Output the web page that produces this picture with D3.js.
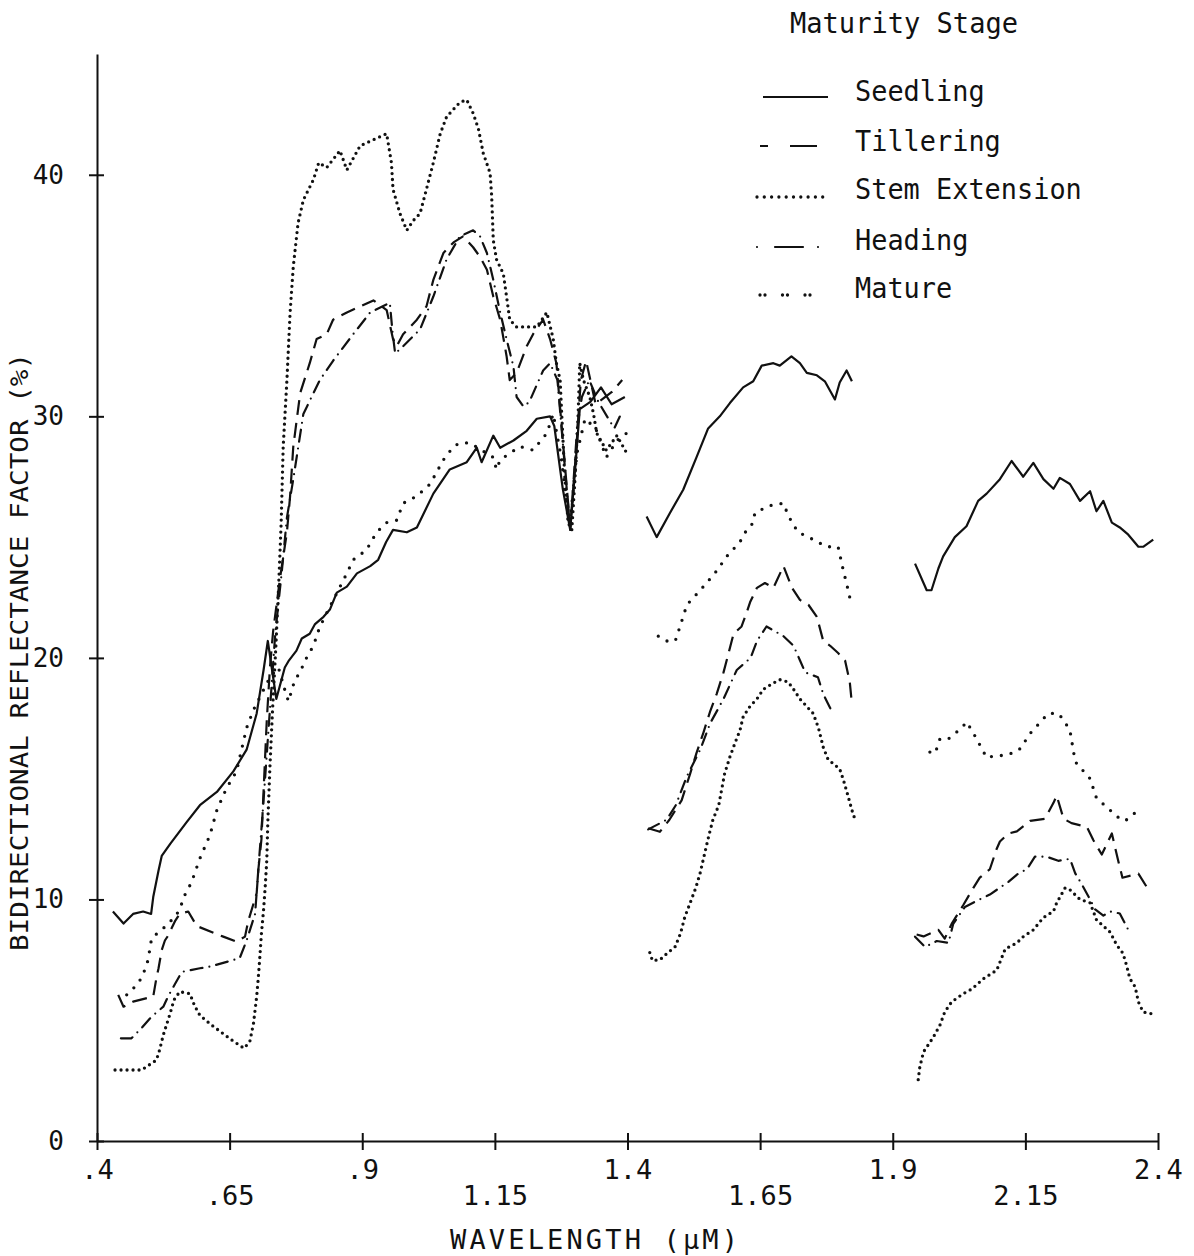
<!DOCTYPE html>
<html>
<head>
<meta charset="utf-8">
<script src="https://cdn.jsdelivr.net/npm/d3@7"></script>
<style>
  body { margin: 0; background: #fff; }
  svg { display: block; background: #fff; }
  text { font-family: "DejaVu Sans Mono", monospace; fill: #111; }
</style>
</head>
<body>
<svg id="chart" width="1194" height="1256"></svg>
<script>
// wavelength (um) / reflectance factor (%), one array per stage and band
const wavelengthTicks = [0.4, 0.65, 0.9, 1.15, 1.4, 1.65, 1.9, 2.15, 2.4];
const wavelengthLabels = [".4", ".65", ".9", "1.15", "1.4", "1.65", "1.9", "2.15", "2.4"];
const reflectanceTicks = [0, 10, 20, 30, 40];
const stages = ["Seedling", "Tillering", "Stem Extension", "Heading", "Mature"];

const seedlingVis = [[0.43,9.5],[0.45,9.0],[0.468,9.4],[0.487,9.5],[0.502,9.4],[0.506,10.1],[0.516,11.2],[0.522,11.8],[0.538,12.3],[0.569,13.2],[0.594,13.9],[0.626,14.45],[0.657,15.3],[0.682,16.2],[0.701,17.7],[0.714,19.5],[0.722,20.7],[0.73,19.5],[0.738,18.3],[0.754,19.6],[0.762,19.9],[0.776,20.3],[0.786,20.8],[0.801,21.0],[0.811,21.4],[0.827,21.7],[0.839,22.0],[0.852,22.7],[0.871,22.95],[0.89,23.5],[0.915,23.8],[0.93,24.06],[0.945,24.8],[0.958,25.3],[0.984,25.2],[1.003,25.4],[1.034,26.8],[1.065,27.8],[1.097,28.1],[1.116,28.7],[1.125,28.1],[1.147,29.2],[1.16,28.7],[1.185,29.0],[1.21,29.4],[1.229,29.9],[1.254,30.0],[1.262,29.6],[1.278,27.0],[1.292,25.3],[1.302,28.0],[1.31,30.3],[1.33,30.6],[1.35,31.2],[1.37,30.5],[1.395,30.8]];
const seedlingSwir1 = [[1.436,25.85],[1.455,25.0],[1.48,26.0],[1.505,26.96],[1.53,28.3],[1.552,29.5],[1.574,30.0],[1.593,30.55],[1.618,31.2],[1.637,31.45],[1.653,32.1],[1.675,32.2],[1.687,32.1],[1.709,32.48],[1.725,32.2],[1.738,31.8],[1.757,31.7],[1.772,31.45],[1.791,30.7],[1.8,31.4],[1.813,31.9],[1.823,31.45]];
const seedlingSwir2 = [[1.942,23.9],[1.964,22.8],[1.973,22.8],[1.986,23.7],[1.995,24.2],[2.017,25.0],[2.039,25.45],[2.061,26.5],[2.077,26.8],[2.102,27.4],[2.124,28.15],[2.146,27.5],[2.165,28.07],[2.184,27.4],[2.203,27.0],[2.215,27.45],[2.234,27.2],[2.253,26.5],[2.272,26.9],[2.284,26.07],[2.297,26.5],[2.313,25.6],[2.328,25.4],[2.344,25.1],[2.363,24.6],[2.372,24.6],[2.391,24.9]];

const tilleringVis = [[0.44,6.05],[0.45,5.56],[0.468,5.77],[0.506,5.98],[0.512,6.75],[0.516,7.15],[0.522,7.9],[0.528,8.3],[0.534,8.5],[0.547,9.1],[0.556,9.4],[0.572,9.5],[0.588,8.9],[0.638,8.46],[0.663,8.25],[0.679,8.46],[0.685,9.1],[0.701,10.26],[0.704,11.2],[0.71,12.5],[0.714,14.5],[0.72,17.4],[0.726,19.6],[0.732,21.1],[0.745,23.3],[0.758,25.2],[0.764,26.7],[0.77,28.75],[0.783,30.96],[0.801,32.2],[0.814,33.2],[0.833,33.4],[0.845,34.0],[0.871,34.3],[0.896,34.55],[0.921,34.8],[0.946,34.4],[0.958,33.2],[0.965,32.9],[0.977,33.4],[1.003,34.0],[1.021,34.55],[1.034,35.65],[1.053,36.76],[1.072,37.2],[1.09,37.45],[1.109,37.0],[1.122,36.6],[1.135,36.07],[1.147,34.96],[1.16,34.0],[1.172,32.5],[1.178,31.5],[1.191,31.8],[1.21,32.9],[1.222,33.4],[1.241,34.0],[1.254,33.2],[1.266,32.2],[1.28,28.5],[1.292,25.4],[1.303,28.5],[1.312,31.5],[1.322,32.3],[1.34,30.5],[1.37,31.0],[1.39,31.5]];
const tilleringSwir1 = [[1.439,12.95],[1.461,12.8],[1.479,13.3],[1.502,14.1],[1.518,15.2],[1.53,16.06],[1.543,16.9],[1.556,17.8],[1.568,18.5],[1.581,19.4],[1.587,19.9],[1.6,21.0],[1.615,21.3],[1.625,21.9],[1.631,22.3],[1.644,22.9],[1.659,23.1],[1.675,22.9],[1.694,23.8],[1.71,22.9],[1.725,22.4],[1.741,22.2],[1.757,21.7],[1.769,20.7],[1.782,20.5],[1.797,20.2],[1.81,19.9],[1.819,19.0],[1.823,18.1]];
const tilleringSwir2 = [[1.945,8.55],[1.958,8.47],[1.986,8.74],[1.998,8.38],[2.011,8.99],[2.033,9.77],[2.052,10.48],[2.064,10.9],[2.083,11.25],[2.096,12.1],[2.102,12.4],[2.118,12.73],[2.134,12.82],[2.159,13.25],[2.187,13.34],[2.203,14.0],[2.209,14.3],[2.222,13.34],[2.237,13.16],[2.266,13.0],[2.278,12.46],[2.294,11.86],[2.313,12.73],[2.325,11.6],[2.333,10.9],[2.363,11.07],[2.382,10.4]];

const stemVis = [[0.434,2.94],[0.46,2.94],[0.484,2.94],[0.512,3.35],[0.518,3.77],[0.525,4.39],[0.538,5.29],[0.545,5.84],[0.556,6.18],[0.575,6.1],[0.584,5.6],[0.594,5.2],[0.616,4.8],[0.641,4.39],[0.654,4.18],[0.677,3.84],[0.688,4.11],[0.695,4.87],[0.701,5.98],[0.704,6.74],[0.707,7.63],[0.71,8.6],[0.714,9.57],[0.717,10.5],[0.72,11.6],[0.722,13.2],[0.726,15.5],[0.731,17.9],[0.737,20.4],[0.743,23.3],[0.747,25.5],[0.751,28.75],[0.758,31.5],[0.764,34.3],[0.77,36.2],[0.779,38.0],[0.789,38.96],[0.808,39.8],[0.818,40.5],[0.833,40.3],[0.858,41.0],[0.871,40.2],[0.896,41.2],[0.921,41.45],[0.946,41.7],[0.955,40.5],[0.958,39.4],[0.971,38.4],[0.984,37.7],[0.996,38.1],[1.009,38.4],[1.021,39.4],[1.034,40.5],[1.047,41.7],[1.059,42.4],[1.084,43.0],[1.097,43.1],[1.109,42.55],[1.119,41.9],[1.128,40.9],[1.141,40.07],[1.144,39.1],[1.147,37.3],[1.153,36.5],[1.166,35.9],[1.172,34.96],[1.178,34.0],[1.191,33.7],[1.21,33.7],[1.229,33.7],[1.248,34.3],[1.26,33.2],[1.266,32.2],[1.273,31.5],[1.276,30.1],[1.282,27.4],[1.288,25.6],[1.295,25.3],[1.301,27.4],[1.307,30.1],[1.31,32.2],[1.317,31.5],[1.329,30.8],[1.336,30.1],[1.342,29.3],[1.36,28.6],[1.38,29.2],[1.398,28.5]];
const stemSwir1 = [[1.442,7.8],[1.447,7.47],[1.461,7.5],[1.471,7.7],[1.49,8.05],[1.5,8.6],[1.508,9.27],[1.518,9.85],[1.529,10.5],[1.537,11.1],[1.547,12.05],[1.554,12.7],[1.561,13.3],[1.572,13.9],[1.583,15.2],[1.593,15.9],[1.603,16.5],[1.612,17.0],[1.618,17.56],[1.631,18.0],[1.644,18.3],[1.656,18.7],[1.675,18.96],[1.687,19.1],[1.703,19.0],[1.713,18.7],[1.725,18.3],[1.75,17.7],[1.76,17.1],[1.769,16.3],[1.778,15.8],[1.8,15.4],[1.807,14.95],[1.816,14.26],[1.823,13.7],[1.829,13.3]];
const stemSwir2 = [[1.948,2.54],[1.951,3.06],[1.958,3.69],[1.976,4.28],[1.989,4.8],[1.998,5.34],[2.011,5.76],[2.033,6.1],[2.049,6.29],[2.071,6.72],[2.096,7.07],[2.112,7.95],[2.134,8.2],[2.146,8.46],[2.165,8.74],[2.184,9.25],[2.203,9.51],[2.209,9.86],[2.225,10.48],[2.234,10.4],[2.253,10.0],[2.272,9.86],[2.284,9.16],[2.31,8.64],[2.322,8.12],[2.334,7.77],[2.341,7.25],[2.347,6.72],[2.357,6.38],[2.363,5.76],[2.372,5.34],[2.394,5.24]];

const headingVis = [[0.445,4.25],[0.465,4.25],[0.485,4.7],[0.503,5.15],[0.525,5.56],[0.534,5.98],[0.547,6.5],[0.56,7.0],[0.594,7.15],[0.613,7.22],[0.669,7.57],[0.682,8.3],[0.698,9.4],[0.705,11.5],[0.712,13.5],[0.72,16.0],[0.728,18.5],[0.736,21.0],[0.748,23.5],[0.758,25.8],[0.77,27.4],[0.789,30.1],[0.82,31.5],[0.845,32.3],[0.883,33.4],[0.915,34.3],[0.952,34.7],[0.957,33.5],[0.962,32.6],[0.977,32.9],[1.009,33.6],[1.034,34.96],[1.059,36.5],[1.084,37.45],[1.109,37.7],[1.122,37.45],[1.135,36.76],[1.147,35.65],[1.16,34.3],[1.172,33.2],[1.185,32.06],[1.191,30.8],[1.204,30.4],[1.215,30.6],[1.241,31.9],[1.254,32.2],[1.268,31.5],[1.292,25.3],[1.305,29.5],[1.314,30.8],[1.328,31.5],[1.345,30.6],[1.375,29.5],[1.39,30.2]];
const headingSwir1 = [[1.439,12.9],[1.474,13.3],[1.491,13.9],[1.512,15.1],[1.537,16.2],[1.556,17.3],[1.581,18.3],[1.606,19.5],[1.632,20.0],[1.644,20.7],[1.662,21.3],[1.694,20.9],[1.713,20.5],[1.725,19.9],[1.735,19.4],[1.759,19.2],[1.769,18.5],[1.778,18.1],[1.785,17.8]];
const headingSwir2 = [[1.942,8.46],[1.961,8.03],[1.983,8.28],[2.005,8.2],[2.014,8.99],[2.036,9.69],[2.058,9.94],[2.083,10.2],[2.118,10.73],[2.137,11.08],[2.153,11.25],[2.168,11.77],[2.19,11.77],[2.212,11.6],[2.234,11.68],[2.244,11.08],[2.256,10.64],[2.272,10.0],[2.281,9.6],[2.297,9.33],[2.31,9.5],[2.328,9.42],[2.344,8.74]];

const matureVis = [[0.456,6.05],[0.475,6.46],[0.484,6.76],[0.494,7.3],[0.497,7.6],[0.503,8.4],[0.53,8.9],[0.55,9.36],[0.56,9.84],[0.566,10.2],[0.578,10.7],[0.594,11.7],[0.613,12.67],[0.626,13.7],[0.644,14.6],[0.663,15.3],[0.682,17.1],[0.695,17.85],[0.726,19.2],[0.742,19.6],[0.755,18.6],[0.761,18.2],[0.773,19.1],[0.783,19.4],[0.792,19.9],[0.801,20.2],[0.811,20.7],[0.817,21.1],[0.827,21.6],[0.864,23.2],[0.871,23.5],[0.883,24.06],[0.908,24.47],[0.927,25.2],[0.946,25.6],[0.965,25.7],[0.977,26.4],[1.003,26.7],[1.028,27.2],[1.053,28.2],[1.072,28.75],[1.084,28.9],[1.103,28.9],[1.147,28.3],[1.153,27.8],[1.16,28.2],[1.197,28.75],[1.222,28.6],[1.248,29.3],[1.26,30.1],[1.275,28.3],[1.291,25.5],[1.305,28.5],[1.32,29.9],[1.34,29.5],[1.36,28.3],[1.38,29.0],[1.398,29.3]];
const matureSwir1 = [[1.458,20.9],[1.474,20.7],[1.49,20.7],[1.499,21.3],[1.512,22.2],[1.537,22.8],[1.549,23.1],[1.568,23.6],[1.587,24.2],[1.612,24.8],[1.622,25.2],[1.637,25.6],[1.64,26.0],[1.667,26.3],[1.694,26.4],[1.7,26.06],[1.71,25.6],[1.722,25.2],[1.75,24.9],[1.775,24.6],[1.797,24.6],[1.8,24.3],[1.806,23.7],[1.816,22.8],[1.819,22.5]];
const matureSwir2 = [[1.97,16.1],[1.98,16.05],[1.989,16.65],[2.005,16.65],[2.03,17.1],[2.039,17.35],[2.049,17.0],[2.058,16.65],[2.077,15.87],[2.096,15.96],[2.112,15.96],[2.134,16.13],[2.143,16.3],[2.156,16.8],[2.193,17.7],[2.212,17.7],[2.222,17.43],[2.234,17.0],[2.244,15.7],[2.272,15.0],[2.284,14.2],[2.328,13.34],[2.338,13.25],[2.363,13.7]];

const series = [
  { name: "Seedling", segments: [seedlingVis, seedlingSwir1, seedlingSwir2] },
  { name: "Tillering", segments: [tilleringVis, tilleringSwir1, tilleringSwir2] },
  { name: "Stem Extension", segments: [stemVis, stemSwir1, stemSwir2] },
  { name: "Heading", segments: [headingVis, headingSwir1, headingSwir2] },
  { name: "Mature", segments: [matureVis, matureSwir1, matureSwir2] }
];

// line styles of the old plotter pens
const styles = {
  "Seedling":       { dash: null,        width: 2.2, cap: "butt",  legendDash: null },
  "Tillering":      { dash: "15,8",      width: 2.2, cap: "butt",  legendDash: "8,22,27,10" },
  "Stem Extension": { dash: "0,6",       width: 3.3, cap: "round", legendDash: "0,7.3" },
  "Heading":        { dash: "12,7,0,7",  width: 2.2, cap: "round", legendDash: "0,18,28,15,0,20" },
  "Mature":         { dash: "0,10",      width: 3.3, cap: "round", legendDash: "0,5,0,17.5" }
};

const svg = d3.select("#chart");
const x = d3.scaleLinear().domain([0.4, 2.4]).range([97, 1158]);
const y = d3.scaleLinear().domain([0, 45]).range([1141, 54]);

const line = d3.line()
  .x(d => x(d[0]))
  .y(d => y(d[1]));

// curves
const plot = svg.append("g").attr("class", "curves");
series.forEach(s => {
  const st = styles[s.name];
  s.segments.forEach(seg => {
    plot.append("path")
      .datum(seg)
      .attr("d", line)
      .attr("fill", "none")
      .attr("stroke", "#111")
      .attr("stroke-width", st.width)
      .attr("stroke-linecap", st.cap)
      .attr("stroke-linejoin", "round")
      .attr("stroke-dasharray", st.dash);
  });
});

// y axis, ticks cross the line
const yAxis = d3.axisLeft(y)
  .tickValues(reflectanceTicks)
  .tickSize(8)
  .tickSizeOuter(0)
  .tickPadding(25)
  .tickFormat(d3.format("d"));

const yg = svg.append("g")
  .attr("transform", `translate(${x(0.4)},0)`)
  .call(yAxis);
yg.select(".domain").attr("stroke", "#111").attr("stroke-width", 2);
yg.selectAll(".tick line").attr("x1", 7).attr("stroke", "#111").attr("stroke-width", 2);
yg.selectAll(".tick text")
  .style("font-family", "DejaVu Sans Mono, monospace")
  .style("font-size", "26px")
  .attr("fill", "#111");

// x axis, labels on two staggered rows
const xAxis = d3.axisBottom(x)
  .tickValues(wavelengthTicks)
  .tickSize(9)
  .tickSizeOuter(0)
  .tickPadding(10)
  .tickFormat(d => wavelengthLabels[wavelengthTicks.indexOf(d)]);

const xg = svg.append("g")
  .attr("transform", `translate(0,${y(0)})`)
  .call(xAxis);
xg.select(".domain").attr("stroke", "#111").attr("stroke-width", 2);
xg.selectAll(".tick line").attr("y1", -8).attr("stroke", "#111").attr("stroke-width", 2);
xg.selectAll(".tick text")
  .attr("y", d => wavelengthTicks.indexOf(d) % 2 ? 45 : 19)
  .style("font-family", "DejaVu Sans Mono, monospace")
  .style("font-size", "27px")
  .attr("fill", "#111");

// axis titles
svg.append("text")
  .attr("x", 594)
  .attr("y", 1249)
  .attr("text-anchor", "middle")
  .attr("textLength", 288)
  .attr("lengthAdjust", "spacing")
  .style("font-size", "27px")
  .text("WAVELENGTH (\u00b5M)");

svg.append("text")
  .attr("transform", "translate(28,652) rotate(-90)")
  .attr("text-anchor", "middle")
  .attr("textLength", 598)
  .attr("lengthAdjust", "spacingAndGlyphs")
  .style("font-size", "24px")
  .text("BIDIRECTIONAL REFLECTANCE FACTOR (%)");

// legend
const legend = svg.append("g").attr("class", "legend");
legend.append("text")
  .attr("x", 790)
  .attr("y", 33)
  .attr("textLength", 228)
  .attr("lengthAdjust", "spacingAndGlyphs")
  .style("font-size", "29px")
  .text("Maturity Stage");

const legendRows = [
  { y: 97,  x0: 763, x1: 828, ty: 101 },
  { y: 146, x0: 760, x1: 817, ty: 151 },
  { y: 197, x0: 757, x1: 823, ty: 199 },
  { y: 247, x0: 757, x1: 820, ty: 250 },
  { y: 295, x0: 760, x1: 812, ty: 298 }
];

stages.forEach((name, i) => {
  const st = styles[name];
  const r = legendRows[i];
  legend.append("line")
    .attr("x1", r.x0).attr("x2", r.x1)
    .attr("y1", r.y).attr("y2", r.y)
    .attr("stroke", "#111")
    .attr("stroke-width", st.width)
    .attr("stroke-linecap", st.cap)
    .attr("stroke-dasharray", st.legendDash);
  legend.append("text")
    .attr("x", 855)
    .attr("y", r.ty)
    .attr("textLength", name.length * 16.2)
    .attr("lengthAdjust", "spacingAndGlyphs")
    .style("font-size", "29px")
    .text(name);
});
</script>
</body>
</html>
